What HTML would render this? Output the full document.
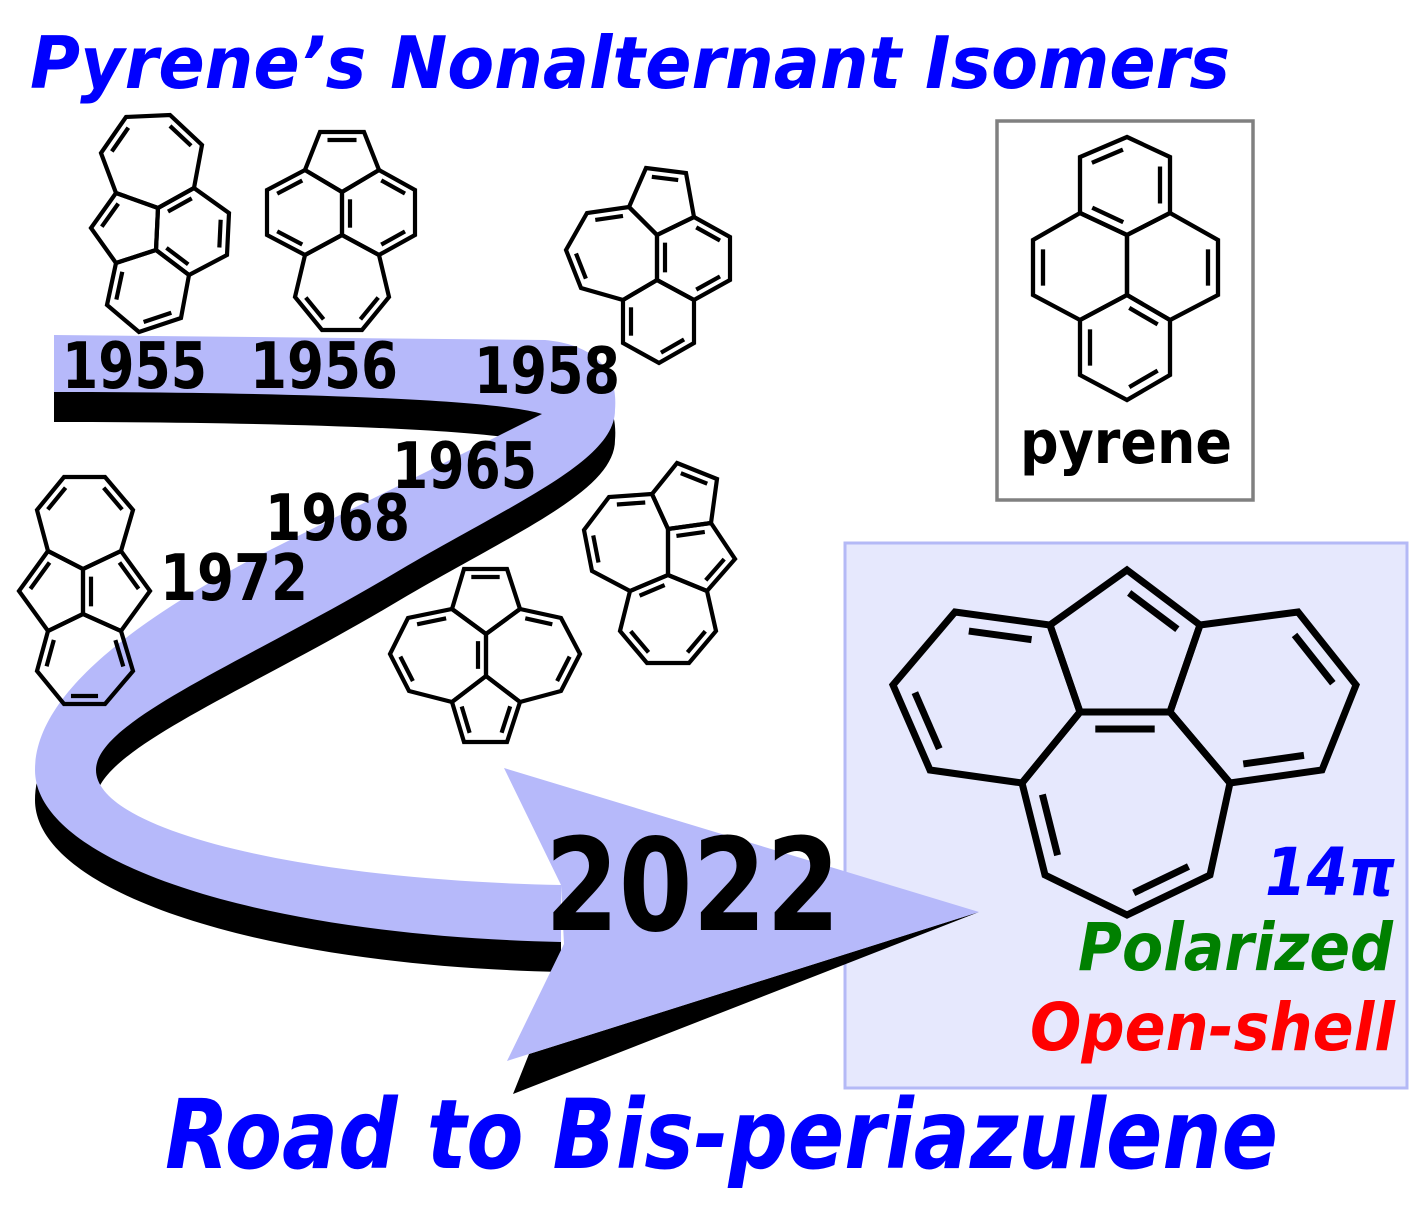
<!DOCTYPE html>
<html><head><meta charset="utf-8"><style>
html,body{margin:0;padding:0;background:#fff;}
svg{display:block;}
text{font-family:"DejaVu Sans","Liberation Sans",sans-serif;font-weight:bold;}
</style></head><body>
<svg id="s" width="1427" height="1212" viewBox="0 0 1427 1212" xmlns="http://www.w3.org/2000/svg">
<rect x="845" y="543" width="562" height="545" fill="#e6e8fd" stroke="#b4b9f6" stroke-width="3"/>
<rect x="997" y="121" width="256" height="379" fill="#fff" stroke="#808080" stroke-width="3.5"/>
<g transform="translate(0,30)">
<path d="M54,335 L545,340 C600,345 618,375 615,410 C615,460 520,500 400,570 C250,660 96,720 96,770 C96,830 300,880 561,885 L561,942 C250,935 35,860 35,770 C35,700 120,630 250,560 L542,414 C500,400 300,392 54,392 Z" fill="#000"/>
</g>
<rect x="0" y="300" width="54" height="140" fill="#fff"/>
<polygon points="979,912 513,1094 529,1054" fill="#000"/>
<path d="M54,335 L545,340 C600,345 618,375 615,410 C615,460 520,500 400,570 C250,660 96,720 96,770 C96,830 300,880 561,885 L561,942 C250,935 35,860 35,770 C35,700 120,630 250,560 L542,414 C500,400 300,392 54,392 Z" fill="#b6b9fa"/>
<polygon points="504,768 979,912 507,1061 564,944 561,885" fill="#b6b9fa"/>
<g id="m" fill="none" stroke="#000" stroke-linejoin="miter"></g>
<text x="30" y="88" font-size="72" font-style="italic" fill="#0000ff" textLength="1200" lengthAdjust="spacingAndGlyphs">Pyrene’s Nonalternant Isomers</text>
<text x="165" y="1168" font-size="96" font-style="italic" fill="#0000ff" textLength="1113" lengthAdjust="spacingAndGlyphs">Road to Bis-periazulene</text>
<g font-size="64" fill="#000">
<text x="62" y="388" textLength="145" lengthAdjust="spacingAndGlyphs">1955</text>
<text x="250" y="388" textLength="148" lengthAdjust="spacingAndGlyphs">1956</text>
<text x="474" y="393" textLength="146" lengthAdjust="spacingAndGlyphs">1958</text>
<text x="392" y="488" textLength="145" lengthAdjust="spacingAndGlyphs">1965</text>
<text x="265" y="540" textLength="145" lengthAdjust="spacingAndGlyphs">1968</text>
<text x="160" y="600" textLength="148" lengthAdjust="spacingAndGlyphs">1972</text>
</g>
<text x="545" y="930" font-size="128" fill="#000" textLength="295" lengthAdjust="spacingAndGlyphs">2022</text>
<text x="1020" y="463" font-size="60" fill="#000" textLength="212" lengthAdjust="spacingAndGlyphs">pyrene</text>
<g font-size="66" font-style="italic">
<text x="1265" y="895" fill="#0000ff" textLength="130" lengthAdjust="spacingAndGlyphs">14π</text>
<text x="1078" y="970" fill="#008000" textLength="315" lengthAdjust="spacingAndGlyphs">Polarized</text>
<text x="1030" y="1050" fill="#ff0000" textLength="365" lengthAdjust="spacingAndGlyphs">Open-shell</text>
</g>
</svg>
<script>
var g=document.getElementById('m'),NS='http://www.w3.org/2000/svg';
function ln(a,b,w){var l=document.createElementNS(NS,'line');l.setAttribute('x1',a[0]);l.setAttribute('y1',a[1]);l.setAttribute('x2',b[0]);l.setAttribute('y2',b[1]);l.setAttribute('stroke-width',w);l.setAttribute('stroke-linecap','butt');g.appendChild(l);}
function mol(rings,dbls,w,off){
 rings.forEach(function(r){var p=document.createElementNS(NS,'polygon');p.setAttribute('points',r.map(function(q){return q.join(',')}).join(' '));p.setAttribute('stroke-width',w);g.appendChild(p);});
 dbls.forEach(function(d){var r=rings[d[0]],a=d[1],b=d[2];var cx=0,cy=0;r.forEach(function(q){cx+=q[0];cy+=q[1]});cx/=r.length;cy/=r.length;
  var dx=b[0]-a[0],dy=b[1]-a[1],L=Math.hypot(dx,dy);var nx=-dy/L,ny=dx/L;var mx=(a[0]+b[0])/2,my=(a[1]+b[1])/2;if(nx*(cx-mx)+ny*(cy-my)<0){nx=-nx;ny=-ny;}
  var s=0.17;var a2=[a[0]+dx*s+nx*off,a[1]+dy*s+ny*off],b2=[b[0]-dx*s+nx*off,b[1]-dy*s+ny*off];ln(a2,b2,w);});
}
(function(){var A=[126,117],B=[170,115],C=[202,145],D=[194,188],E=[158,208],F=[116,193],G=[101,153],H=[91,228],I=[116,263],J=[156,250],K=[229,213],Lp=[227,255],M=[189,275],N=[107,305],O=[139,332],P=[181,318];
mol([[A,B,C,D,E,F,G],[F,E,J,I,H],[E,D,K,Lp,M,J],[I,J,M,P,O,N]],[[0,A,G],[0,B,C],[1,F,H],[2,E,D],[2,K,Lp],[2,M,J],[3,I,N],[3,O,P]],4.2,8);})();
(function(){var A=[320,132],B=[364,132],C=[379,170],D=[342,192],E=[305,170],F=[267,190],G=[267,235],H=[305,255],I=[342,235],J=[415,190],K=[415,235],Lp=[379,255],M=[295,297],N=[322,330],O=[362,330],P=[389,297];
mol([[A,B,C,D,E],[E,D,I,H,G,F],[C,J,K,Lp,I,D],[H,I,Lp,P,O,N,M]],[[0,A,B],[1,E,F],[1,G,H],[2,D,I],[2,C,J],[2,K,Lp],[3,M,N],[3,O,P]],4.2,8);})();
(function(){var A=[646,168],B=[686,173],C=[694,217],D=[657,235],E=[629,207],F=[587,213],G=[566,250],H=[581,288],I=[623,300],J=[657,280],K=[730,237],Lp=[730,280],M=[694,300],N=[623,343],O=[659,363],P=[694,343];
mol([[A,B,C,D,E],[E,D,J,I,H,G,F],[C,K,Lp,M,J,D],[I,J,M,P,O,N]],[[0,A,B],[1,F,E],[1,G,H],[2,D,J],[2,C,K],[2,Lp,M],[3,I,N],[3,O,P]],4.2,8);})();
(function(){var a=[64,477],b=[105,477],c=[133,510],d=[121,551],e=[83,569],f=[48,551],h=[37,510],i=[19,591],j=[48,631],k=[83,614],l=[150,591],m=[121,631],n=[37,671],o=[64,704],p=[105,704],q=[133,671];
mol([[a,b,c,d,e,f,h],[f,e,k,j,i],[e,d,l,m,k],[j,k,m,q,p,o,n]],[[0,a,h],[0,b,c],[1,f,i],[2,d,l],[2,e,k],[3,j,n],[3,m,q],[3,o,p]],4.2,8);})();
(function(){var A=[464,569],B=[507,569],C=[520,609],D=[486,634],E=[452,609],F=[408,618],G=[390,654],H=[409,691],I=[452,702],J=[486,676],K=[561,618],Lp=[580,654],M=[561,691],N=[520,702],O=[464,742],P=[507,742];
mol([[A,B,C,D,E],[E,D,J,I,H,G,F],[C,K,Lp,M,N,J,D],[I,J,N,P,O]],[[0,A,B],[1,F,E],[1,G,H],[1,D,J],[2,C,K],[2,Lp,M],[3,I,O],[3,N,P]],4.2,8);})();
(function(){var A=[677,463],B=[717,479],C=[711,523],D=[668,529],E=[652,494],F=[609,497],G=[584,530],H=[592,571],I=[630,591],J=[668,575],K=[735,559],Lp=[707,591],M=[620,631],N=[647,663],O=[689,663],P=[716,631];
mol([[A,B,C,D,E],[E,D,J,I,H,G,F],[C,K,Lp,J,D],[I,J,Lp,P,O,N,M]],[[0,A,B],[1,F,E],[1,G,H],[2,C,D],[2,K,Lp],[3,I,J],[3,M,N],[3,O,P]],4.2,8);})();
(function(){var A=[1127,137],B=[1170,157],C=[1170,213],D=[1127,235],E=[1080,213],F=[1080,157],G=[1127,295],H=[1033,240],I=[1033,295],J=[1080,320],K=[1218,240],Lp=[1218,295],M=[1170,320],N=[1080,375],O=[1127,400],P=[1170,375];
mol([[A,B,C,D,E,F],[E,D,G,J,I,H],[C,K,Lp,M,G,D],[J,G,M,P,O,N]],[[0,F,A],[0,B,C],[0,E,D],[1,H,I],[2,K,Lp],[3,G,M],[3,J,N],[3,O,P]],4.3,10);})();
(function(){var T=[1127,570],A=[1050,625],B=[1200,625],C=[1080,712],D=[1170,712],E=[955,612],F=[893,685],G=[930,770],H=[1022,783],I=[1298,612],J=[1356,685],K=[1322,770],Lp=[1230,783],M=[1045,875],N=[1127,915],O=[1210,875];
mol([[T,B,D,C,A],[A,C,H,G,F,E],[B,I,J,K,Lp,D],[H,C,D,Lp,O,N,M]],[[0,T,B],[3,C,D],[1,E,A],[1,F,G],[2,I,J],[2,K,Lp],[3,H,M],[3,N,O]],7,17);})();
</script>
</body></html>
